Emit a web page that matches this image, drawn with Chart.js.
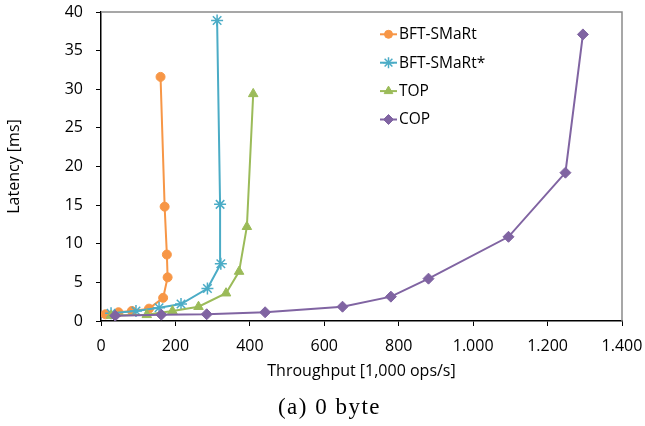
<!DOCTYPE html>
<html>
<head>
<meta charset="utf-8">
<script src="https://cdn.jsdelivr.net/npm/chart.js@4.4.1/dist/chart.umd.min.js"></script>
<style>
  html, body { margin: 0; padding: 0; background: #fff; }
  #wrap { position: relative; width: 645px; height: 426px; overflow: hidden; }
  #c { position: absolute; left: 0; top: 0; }
  #cap { position: absolute; left: 0; width: 659px; top: 395px; text-align: center;
         font-family: "Liberation Serif", serif; font-size: 23px; line-height: 23px;
         letter-spacing: 1.5px; color: #000; }
</style>
</head>
<body>
<div id="wrap">
  <canvas id="c" width="645" height="426"></canvas>
  <div id="cap">(a) 0 byte</div>
</div>
<script>
// ---- Data (throughput in 1,000 ops/s, latency in ms) ----
const seriesNames = ["BFT-SMaRt", "BFT-SMaRt*", "TOP", "COP"];

const bftThroughput = [12, 47, 83, 129, 167, 179, 177, 171, 160];
const bftLatency    = [0.87, 1.13, 1.3, 1.6, 3.0, 5.65, 8.6, 14.8, 31.6];

const bftStarThroughput = [27, 94, 156, 215, 286, 322, 320, 312];
const bftStarLatency    = [1.0, 1.3, 1.72, 2.2, 4.2, 7.4, 15.1, 38.9];

const topThroughput = [27, 123, 192, 262, 336, 371, 392, 409];
const topLatency    = [0.7, 0.8, 1.3, 1.85, 3.6, 6.4, 12.2, 29.4];

const copThroughput = [38, 162, 284, 441, 649, 779, 880, 1095, 1248, 1295];
const copLatency    = [0.69, 0.82, 0.87, 1.13, 1.85, 3.15, 5.48, 10.9, 19.2, 37.1];

const xTicks = [0, 200, 400, 600, 800, 1000, 1200, 1400];
const yTicks = [0, 5, 10, 15, 20, 25, 30, 35, 40];

const seriesColors = ["#F79646", "#4BACC6", "#9BBB59", "#8064A2"];
const seriesStyles = ["circle", "star", "triangle", "rectRot"];
const seriesRadius = [4.5, 6, 5.5, 5.5];

function toPoints(xs, ys) { return xs.map((x, i) => ({ x: x, y: ys[i] })); }

const allX = [bftThroughput, bftStarThroughput, topThroughput, copThroughput];
const allY = [bftLatency, bftStarLatency, topLatency, copLatency];

const datasets = seriesNames.map((name, i) => ({
  label: name,
  data: toPoints(allX[i], allY[i]),
  showLine: true,
  borderColor: seriesColors[i],
  backgroundColor: seriesColors[i],
  borderWidth: 2,
  pointStyle: seriesStyles[i],
  pointRadius: seriesRadius[i],
  pointHoverRadius: seriesRadius[i],
  pointBorderWidth: i === 1 ? 1.5 : 1,
  pointBackgroundColor: seriesColors[i],
  pointBorderColor: seriesColors[i],
  tension: 0,
  order: 3 - i
}));

function fmtThousands(v) {
  return String(v).replace(/\B(?=(\d{3})+(?!\d))/g, ".");
}

const framePlugin = {
  id: "frame",
  beforeDatasetsDraw(chart) {
    const { ctx, chartArea: a } = chart;
    ctx.save();
    ctx.strokeStyle = "#8a8a8a";
    ctx.lineWidth = 1.5;
    ctx.beginPath();
    ctx.moveTo(a.left, a.top);
    ctx.lineTo(a.right, a.top);
    ctx.lineTo(a.right, a.bottom);
    ctx.stroke();
    ctx.restore();
  }
};

function drawMarker(ctx, style, x, y, r, color, bw) {
  ctx.fillStyle = color;
  ctx.strokeStyle = color;
  ctx.lineWidth = bw;
  if (window.Chart && Chart.helpers && Chart.helpers.drawPoint) {
    Chart.helpers.drawPoint(ctx, { pointStyle: style, radius: r, borderWidth: bw, rotation: 0 }, x, y);
    return;
  }
  ctx.beginPath(); ctx.arc(x, y, r, 0, Math.PI * 2); ctx.fill();
}

const legendPlugin = {
  id: "customLegend",
  afterDraw(chart) {
    const { ctx } = chart;
    const x0 = 380, x1 = 397, tx = 399, y0 = 34.3, dy = 28.4;
    ctx.save();
    chart.data.datasets.forEach((ds, i) => {
      const y = y0 + i * dy;
      ctx.strokeStyle = ds.borderColor;
      ctx.lineWidth = 2;
      ctx.beginPath();
      ctx.moveTo(x0, y);
      ctx.lineTo(x1, y);
      ctx.stroke();
      drawMarker(ctx, ds.pointStyle, (x0 + x1) / 2, y, ds.pointRadius - 0.5, ds.borderColor, ds.pointBorderWidth);
      ctx.fillStyle = "#000";
      ctx.font = "15.5px 'Open Sans'";
      ctx.textAlign = "left";
      ctx.textBaseline = "middle";
      ctx.fillText(ds.label, tx, y + 0.5);
    });
    ctx.restore();
  }
};

new Chart(document.getElementById("c"), {
  type: "scatter",
  data: { datasets: datasets },
  options: {
    responsive: false,
    animation: false,
    devicePixelRatio: 1,
    layout: { padding: { left: 0, top: 12, right: 23, bottom: 45 } },
    plugins: {
      legend: { display: false },
      tooltip: { enabled: false },
      title: { display: false }
    },
    scales: {
      x: {
        type: "linear",
        min: 0, max: 1400,
        afterBuildTicks(scale) { scale.ticks = xTicks.map(v => ({ value: v })); },
        afterFit(scale) { scale.height = 60; scale.paddingLeft = 0; scale.paddingRight = 0; scale.paddingTop = 0; scale.paddingBottom = 0; },
        ticks: {
          padding: 11,
          color: "#000",
          font: { family: "'Open Sans'", size: 16 },
          maxRotation: 0,
          callback: v => fmtThousands(v)
        },
        grid: { display: true, drawOnChartArea: false, drawTicks: true, tickLength: 5, color: "#000", lineWidth: 1 },
        border: { display: true, color: "#000", width: 1.5 },
        title: {
          display: true,
          text: "Throughput [1,000 ops/s]",
          color: "#000",
          font: { family: "'Open Sans'", size: 16 },
          padding: { top: 0, bottom: 0 }
        }
      },
      y: {
        type: "linear",
        min: 0, max: 40,
        afterBuildTicks(scale) { scale.ticks = yTicks.map(v => ({ value: v })); },
        afterFit(scale) { scale.width = 101; scale.paddingLeft = 0; scale.paddingRight = 0; scale.paddingTop = 0; scale.paddingBottom = 0; },
        ticks: {
          padding: 13,
          color: "#000",
          font: { family: "'Open Sans'", size: 16 }
        },
        grid: { display: true, drawOnChartArea: false, drawTicks: true, tickLength: 5, color: "#000", lineWidth: 1 },
        border: { display: true, color: "#000", width: 1.5 },
        title: {
          display: true,
          text: "Latency [ms]",
          color: "#000",
          font: { family: "'Open Sans'", size: 16 },
          padding: { top: 5, bottom: 0 }
        }
      }
    }
  },
  plugins: [framePlugin, legendPlugin]
});
</script>
</body>
</html>
